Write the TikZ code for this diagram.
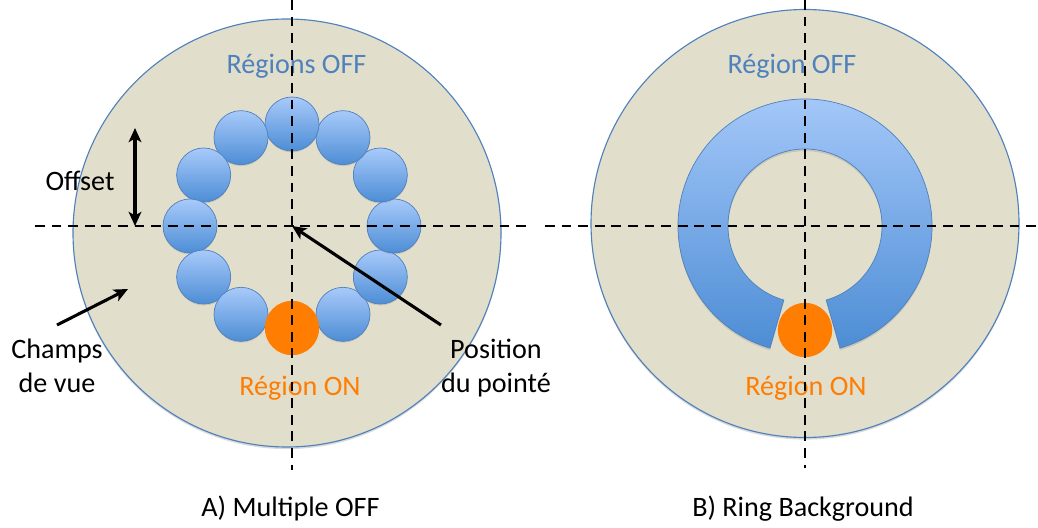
\documentclass[tikz,border=0pt]{standalone}
\usepackage{fontspec}
\setmainfont{Carlito}
\usetikzlibrary{arrows.meta,shadows,positioning}
\definecolor{fieldbg}{RGB}{225,222,204}
\definecolor{fieldline}{RGB}{79,129,189}
\definecolor{offtop}{RGB}{168,202,250}
\definecolor{offbot}{RGB}{77,141,213}
\definecolor{onfill}{RGB}{255,125,0}
\definecolor{offtext}{RGB}{79,129,189}
\tikzset{
  field/.style={fill=fieldbg, draw=fieldline, line width=0.8pt,
    drop shadow={shadow xshift=0pt, shadow yshift=-1.5pt, opacity=0.3}},
  axis/.style={line width=1.7pt, dash pattern=on 7pt off 4.8pt},
  offreg/.style={circle, minimum size=1.35cm, inner sep=0pt, draw=fieldline,
    line width=0.5pt, top color=offtop, bottom color=offbot,
    drop shadow={shadow xshift=0pt, shadow yshift=-1pt, opacity=0.25}},
  onreg/.style={circle, minimum size=1.36cm, inner sep=0pt, fill=onfill},
  ringbg/.style={draw=fieldline, line width=0.5pt, top color=offtop, bottom color=offbot,
    drop shadow={shadow xshift=0pt, shadow yshift=-1.5pt, opacity=0.25}},
  lbl/.style={font=\fontsize{20}{24}\selectfont, inner sep=0pt},
  callout/.style={lbl, align=center, inner ysep=10pt},
  ptr/.style={line width=2.2pt, -{Stealth[length=10pt,width=9pt,inset=2.5pt]}},
  dblptr/.style={line width=2.2pt, {Stealth[length=10pt,width=9pt,inset=2.5pt]}-{Stealth[length=10pt,width=9pt,inset=2.5pt]}},
}
\begin{document}
\begin{tikzpicture}[x=0.025cm,y=0.025cm]
  \useasboundingbox (0,0) rectangle (1038,527);
  \draw[field] (287,294) circle (214);
  \draw[field] (805,303.5) circle (214);
  \coordinate (ctrA) at (292,301);
  \coordinate (ctrB) at (805,301);
  \foreach \a [count=\i] in {-60,-30,...,240}
    \node[offreg] (off\i) at ([shift={(\a:102)}]ctrA) {};
  \node[onreg] (onA) at ([shift={(-90:102)}]ctrA) {};
  \draw[ringbg] ([shift={(-74:127)}]ctrB) arc[start angle=-74, end angle=254, radius=127]
    -- ([shift={(254:77)}]ctrB) arc[start angle=254, end angle=-74, radius=77] -- cycle;
  \node[onreg] (onB) at (805,197) {};
  \node[lbl, anchor=base, text=offtext] (offA) at (296.5,453) {Régions OFF};
  \node[lbl, anchor=base, text=offtext] (offB) at (792,453) {Région OFF};
  \node[lbl, anchor=base, text=onfill] (onAtxt) at (300,132) {Région ON};
  \node[lbl, anchor=base, text=onfill] (onBtxt) at (806,132) {Région ON};
  \node[lbl, anchor=base] (offset) at (80,336) {Offset};
  \node[callout, anchor=north] (champs) at (57,202) {Champs\\de vue};
  \node[callout, anchor=north] (pos) at (496,202) {Position\\du pointé};
  \node[lbl, anchor=base] (capA) at (290.5,11) {A) Multiple OFF};
  \node[lbl, anchor=base] (capB) at (803,11) {B) Ring Background};
  \begin{scope}[axis]
    \draw (35,301) -- (527,301);
    \draw (292,527) -- (292,57);
    \draw (545,301) -- (1038,301);
    \draw (805,527) -- (805,59);
  \end{scope}
  \coordinate (offlo) at (135,301);
  \coordinate (offhi) at (135,399);
  \coordinate (fovA) at (128,238);
  \draw[dblptr] (offlo) -- (offhi);
  \draw[ptr] (champs.north) -- (fovA);
  \draw[ptr] (pos.north west) -- (ctrA);
\end{tikzpicture}
\end{document}
